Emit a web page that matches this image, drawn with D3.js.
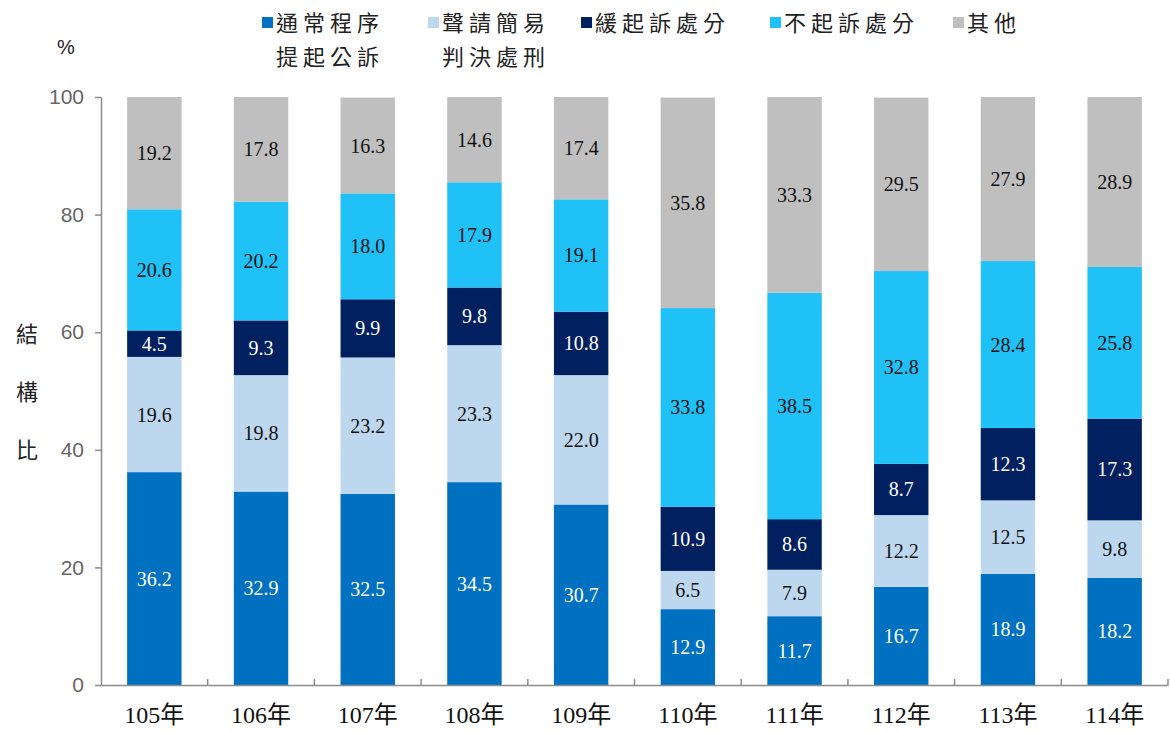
<!DOCTYPE html>
<html>
<head>
<meta charset="utf-8">
<script src="https://cdn.jsdelivr.net/npm/d3@7"></script>
<style>
  body { margin: 0; background: #fff; }
  svg { display: block; }
</style>
</head>
<body>
<svg id="chart" width="1170" height="734"></svg>
<script>
var years = ['105年', '106年', '107年', '108年', '109年', '110年', '111年', '112年', '113年', '114年'];

var seriesKeys = ['normal', 'summary', 'deferred', 'nonpros', 'other'];
var seriesNames = [['通常程序', '提起公訴'], ['聲請簡易', '判決處刑'], ['緩起訴處分'], ['不起訴處分'], ['其他']];

var normal   = [36.2, 32.9, 32.5, 34.5, 30.7, 12.9, 11.7, 16.7, 18.9, 18.2];
var summary  = [19.6, 19.8, 23.2, 23.3, 22.0, 6.5, 7.9, 12.2, 12.5, 9.8];
var deferred = [4.5, 9.3, 9.9, 9.8, 10.8, 10.9, 8.6, 8.7, 12.3, 17.3];
var nonpros  = [20.6, 20.2, 18.0, 17.9, 19.1, 33.8, 38.5, 32.8, 28.4, 25.8];
var other    = [19.2, 17.8, 16.3, 14.6, 17.4, 35.8, 33.3, 29.5, 27.9, 28.9];

var yTicks = [0, 20, 40, 60, 80, 100];

var colors = ['#0070c0', '#bdd7ee', '#002060', '#1fc1f7', '#bfbfbf'];
var labelColors = ['#fff', '#111', '#fff', '#111', '#111'];

var rows = years.map(function (y, i) {
    return { year: y, normal: normal[i], summary: summary[i], deferred: deferred[i], nonpros: nonpros[i], other: other[i] };
});

var svg = d3.select('#chart');
var plotLeft = 101, plotRight = 1168, plotTop = 97, plotBottom = 685;

var x = d3.scaleBand().domain(years).range([plotLeft, plotRight]).paddingInner(0.49).paddingOuter(0.245);
var y = d3.scaleLinear().domain([0, 100]).range([plotBottom, plotTop]);

var stacked = d3.stack().keys(seriesKeys)(rows);

// bars
var layers = svg.append('g').selectAll('g')
    .data(stacked)
    .enter().append('g')
        .attr('fill', (d, i) => colors[i]);

layers.selectAll('rect')
    .data(d => d)
    .enter().append('rect')
        .attr('x', d => x(d.data.year))
        .attr('width', x.bandwidth())
        .attr('y', d => y(Math.min(d[1], 100)))
        .attr('height', d => y(d[0]) - y(Math.min(d[1], 100)));

// value labels
stacked.forEach(function (layer, li) {
    svg.append('g').selectAll('text')
        .data(layer)
        .enter().append('text')
            .attr('x', d => x(d.data.year) + x.bandwidth() / 2)
            .attr('y', d => y((d[0] + Math.min(d[1], 100)) / 2))
            .attr('dy', '0.35em')
            .attr('text-anchor', 'middle')
            .attr('font-family', '"Liberation Serif", serif')
            .attr('font-size', 20)
            .attr('fill', labelColors[li])
            .text(d => (d[1] - d[0]).toFixed(1));
});

// y axis
var yAxis = svg.append('g')
    .attr('transform', 'translate(' + plotLeft + ',0)')
    .call(d3.axisLeft(y).tickValues(yTicks).tickSize(6).tickSizeOuter(0).tickPadding(11));
yAxis.select('.domain').attr('stroke', '#8c8c8c').attr('stroke-width', 1.5);
yAxis.selectAll('.tick line').attr('stroke', '#8c8c8c').attr('stroke-width', 1.5);
yAxis.selectAll('.tick text')
    .attr('font-family', '"Liberation Sans", Arial, sans-serif')
    .attr('font-size', 21)
    .attr('fill', '#666');

// x axis
var xAxis = svg.append('g')
    .attr('transform', 'translate(0,' + plotBottom + ')')
    .call(d3.axisBottom(x).tickSize(0).tickSizeOuter(0).tickPadding(21));
xAxis.select('.domain').attr('stroke', '#8c8c8c').attr('stroke-width', 1.5);
xAxis.selectAll('.tick text')
    .attr('font-family', '"Liberation Serif", "Noto Sans CJK TC", serif')
    .attr('font-size', 24)
    .attr('fill', '#111');

// category separators (ticks up from the axis)
var step = x.step();
var seps = d3.range(1, years.length + 1);
svg.append('g').selectAll('line')
    .data(seps)
    .enter().append('line')
        .attr('x1', i => plotLeft + i * step)
        .attr('x2', i => plotLeft + i * step)
        .attr('y1', plotBottom)
        .attr('y2', plotBottom - 6)
        .attr('stroke', '#8c8c8c')
        .attr('stroke-width', 1.5);

// axis titles
svg.append('text')
    .attr('x', 66).attr('y', 54)
    .attr('text-anchor', 'middle')
    .attr('font-family', '"Liberation Sans", sans-serif')
    .attr('font-size', 20)
    .attr('fill', '#222')
    .text('%');

svg.append('g').selectAll('text')
    .data(['結', '構', '比'])
    .enter().append('text')
        .attr('x', 27)
        .attr('y', (d, i) => 334 + i * 58)
        .attr('dy', '0.35em')
        .attr('text-anchor', 'middle')
        .attr('font-family', '"Noto Sans CJK TC", sans-serif')
        .attr('font-size', 22)
        .attr('fill', '#222')
        .text(d => d);

// legend
var legendX = [262, 428, 581, 770, 953];
var legend = svg.append('g').selectAll('g')
    .data(seriesNames)
    .enter().append('g')
        .attr('transform', (d, i) => 'translate(' + legendX[i] + ',0)');

legend.append('rect')
    .attr('x', 0).attr('y', 17)
    .attr('width', 11).attr('height', 11)
    .attr('fill', (d, i) => colors[i]);

legend.each(function (lines) {
    d3.select(this).selectAll('text')
        .data(lines)
        .enter().append('text')
            .attr('x', 14)
            .attr('y', (d, j) => 23 + j * 34)
            .attr('dy', '0.35em')
            .attr('font-family', '"Noto Sans CJK TC", sans-serif')
            .attr('font-size', 22)
            .attr('letter-spacing', 5)
            .attr('fill', '#222')
            .text(d => d);
});
</script>
</body>
</html>
